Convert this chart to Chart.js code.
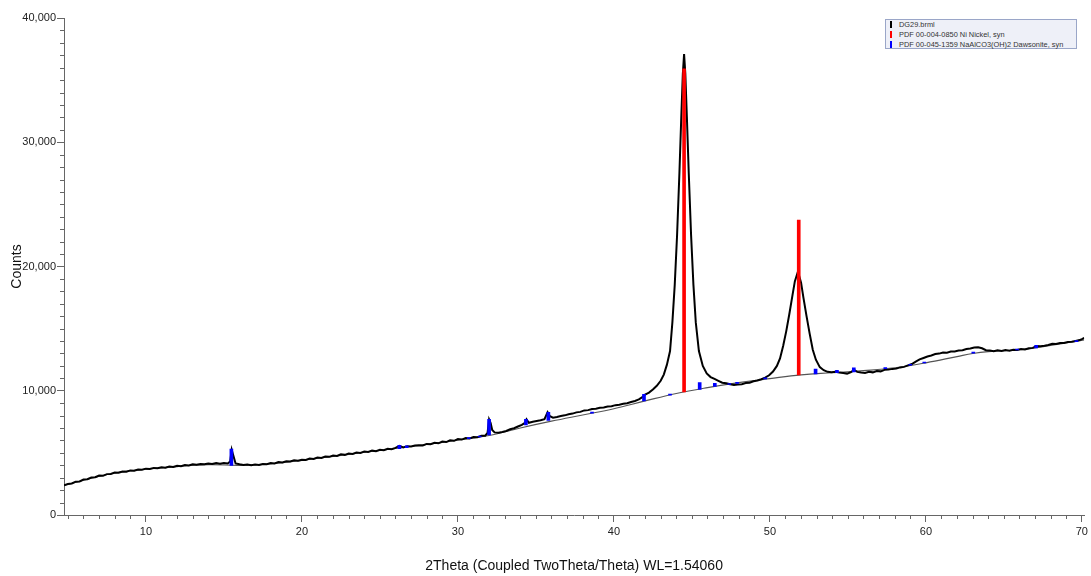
<!DOCTYPE html>
<html>
<head>
<meta charset="utf-8">
<title>DG29 XRD</title>
<script src="https://cdn.jsdelivr.net/npm/chart.js@4.4.1/dist/chart.umd.min.js"></script>
<style>
  body { margin: 0; background: #fff; font-family: "Liberation Sans", Arial, sans-serif; }
  #wrap { position: relative; width: 1091px; height: 576px; }
  #legend {
    position: absolute; left: 885px; top: 19px; width: 192px; height: 30px;
    background: #eef0f8; border: 1px solid #9aa6c8;
    font-size: 7.4px; line-height: 10px; color: #333; padding: 0 0 0 4px; box-sizing: border-box;
  }
  #legend div { white-space: nowrap; }
  #legend span { display: inline-block; width: 2px; height: 7px; margin-right: 7px; vertical-align: -1px; }
</style>
</head>
<body>
<div id="wrap">
  <canvas id="xrd"></canvas>
  <div id="legend"></div>
</div>
<script>
"use strict";

// ---------- Data ----------
const twoTheta = [
  4.75, 5.0, 5.25, 5.5, 5.75, 6.0, 6.25, 6.5, 6.75, 7.0,
  7.25, 7.5, 7.75, 8.0, 8.25, 8.5, 8.75, 9.0, 9.25, 9.5,
  9.75, 10.0, 10.25, 10.5, 10.75, 11.0, 11.25, 11.5, 11.75, 12.0,
  12.25, 12.5, 12.75, 13.0, 13.25, 13.5, 13.75, 14.0, 14.25, 14.5,
  14.75, 15.0, 15.25, 15.4, 15.5, 15.6, 15.75, 16.0, 16.25, 16.5,
  16.75, 17.0, 17.25, 17.5, 17.75, 18.0, 18.25, 18.5, 18.75, 19.0,
  19.25, 19.5, 19.75, 20.0, 20.25, 20.5, 20.75, 21.0, 21.25, 21.5,
  21.75, 22.0, 22.25, 22.5, 22.75, 23.0, 23.25, 23.5, 23.75, 24.0,
  24.25, 24.5, 24.75, 25.0, 25.25, 25.5, 25.75, 26.0, 26.25, 26.5,
  26.75, 27.0, 27.25, 27.5, 27.75, 28.0, 28.25, 28.5, 28.75, 29.0,
  29.25, 29.5, 29.75, 30.0, 30.25, 30.5, 30.75, 31.0, 31.25, 31.5,
  31.75, 31.9, 32.0, 32.1, 32.2, 32.35, 32.6, 32.85, 33.1, 33.35,
  33.6, 33.85, 34.1, 34.3, 34.4, 34.55, 34.8, 35.05, 35.3, 35.55,
  35.75, 35.9, 36.1, 36.35, 36.6, 36.85, 37.1, 37.35, 37.6, 37.85,
  38.1, 38.35, 38.6, 38.85, 39.1, 39.35, 39.6, 39.85, 40.1, 40.35,
  40.6, 40.85, 41.1, 41.35, 41.6, 41.85, 42.0, 42.25, 42.5, 42.75,
  43.0, 43.2, 43.4, 43.6, 43.75, 43.9, 44.05, 44.2, 44.32, 44.42,
  44.5, 44.58, 44.68, 44.8, 44.95, 45.1, 45.25, 45.45, 45.7, 45.95,
  46.2, 46.45, 46.7, 46.95, 47.2, 47.45, 47.7, 47.95, 48.2, 48.45,
  48.7, 48.95, 49.2, 49.45, 49.7, 49.95, 50.2, 50.45, 50.65, 50.85,
  51.05, 51.25, 51.45, 51.6, 51.8, 52.0, 52.15, 52.35, 52.55, 52.75,
  52.95, 53.2, 53.45, 53.7, 53.95, 54.2, 54.45, 54.7, 54.95, 55.2,
  55.4, 55.6, 55.85, 56.1, 56.35, 56.6, 56.85, 57.1, 57.35, 57.6,
  57.85, 58.1, 58.35, 58.6, 58.85, 59.1, 59.35, 59.6, 59.85, 60.1,
  60.35, 60.6, 60.85, 61.1, 61.35, 61.6, 61.85, 62.1, 62.35, 62.6,
  62.85, 63.1, 63.35, 63.6, 63.85, 64.1, 64.35, 64.6, 64.85, 65.1,
  65.35, 65.6, 65.85, 66.1, 66.35, 66.6, 66.85, 67.1, 67.35, 67.6,
  67.85, 68.1, 68.35, 68.6, 68.85, 69.1, 69.35, 69.6, 69.85, 70.0,
  70.15
];
const counts = [
  2400, 2500, 2540, 2680, 2700, 2850, 2880, 3010, 3040, 3170,
  3150, 3290, 3300, 3420, 3400, 3500, 3490, 3590, 3560, 3660,
  3640, 3730, 3700, 3790, 3760, 3850, 3810, 3900, 3870, 3960,
  3930, 4030, 3990, 4080, 4040, 4110, 4080, 4150, 4110, 4180,
  4130, 4190, 4140, 4300, 5250, 4800, 4150, 4080, 4020, 4060,
  4000, 4060, 4030, 4110, 4090, 4180, 4150, 4260, 4230, 4330,
  4300, 4400, 4360, 4450, 4430, 4550, 4510, 4630, 4590, 4710,
  4680, 4790, 4750, 4880, 4840, 4950, 4910, 5030, 5000, 5110,
  5070, 5180, 5140, 5250, 5210, 5330, 5300, 5400, 5560, 5440,
  5540, 5510, 5590, 5620, 5600, 5720, 5690, 5810, 5770, 5910,
  5870, 6010, 5970, 6110, 6070, 6200, 6160, 6280, 6250, 6380,
  6380, 6600, 7700, 7400, 6850, 6650, 6620, 6680, 6760, 6900,
  6980, 7120, 7250, 7420, 7700, 7420, 7500, 7570, 7620, 7720,
  8270, 7950, 7830, 7880, 7960, 8020, 8110, 8160, 8260, 8300,
  8420, 8440, 8530, 8550, 8630, 8650, 8730, 8750, 8840, 8870,
  8950, 9000, 9100, 9180, 9300, 9500, 9700, 9850, 10100, 10400,
  10800, 11300, 12100, 13200, 15500, 18500, 22500, 27500, 32000, 35500,
  37100, 35500, 32000, 27500, 22500, 18500, 15500, 13200, 12000, 11400,
  11100, 10950, 10800, 10650, 10600, 10520, 10470, 10500, 10530, 10620,
  10650, 10760, 10820, 10930, 11050, 11250, 11550, 12000, 12600, 13600,
  14800, 16200, 17700, 18800, 19600, 18700, 17500, 16000, 14600, 13300,
  12500, 11900, 11650, 11520, 11480, 11530, 11460, 11420, 11380, 11500,
  11680, 11520, 11470, 11430, 11520, 11480, 11580, 11560, 11680, 11700,
  11760, 11780, 11880, 11920, 12040, 12150, 12350, 12520, 12640, 12760,
  12840, 12950, 12990, 13080, 13060, 13150, 13160, 13240, 13260, 13360,
  13400, 13480, 13500, 13420, 13260, 13230, 13180, 13260, 13210, 13270,
  13220, 13300, 13280, 13350, 13320, 13420, 13450, 13600, 13580, 13620,
  13680, 13780, 13760, 13850, 13840, 13920, 13940, 14010, 14080, 14160,
  14250
];

// fitted background
const bgTheta = [4.75, 6, 8, 10, 12, 14, 16, 18, 20, 22, 24, 26, 28, 30, 32, 34, 36, 38, 40, 42, 44, 46, 48, 50,
  52, 54, 56, 58, 60, 62, 63, 64, 66, 68, 70.15];
const bgCounts = [2380, 2800, 3380, 3680, 3900, 4050, 4000, 4120, 4400, 4720, 5050, 5350, 5680, 6030, 6400, 7000, 7550,
  8050, 8550, 9180, 9780, 10250, 10650, 10980, 11280, 11450, 11620, 11850, 12250, 12750, 13000, 13150, 13300, 13650, 14100];

// PDF 00-004-0850 Ni Nickel, syn
const niTheta = [44.5, 51.85];
const niBase = [9900, 11270];
const niTop = [35900, 23740];

// PDF 00-045-1359 NaAlCO3(OH)2 Dawsonite, syn
const dawTheta = [15.48, 26.25, 26.72, 30.7, 31.4, 32.0, 34.36, 35.8, 38.6, 41.93, 43.6, 45.5, 46.47, 47.4, 47.9,
  49.7, 52.93, 54.3, 55.38, 57.4, 59.0, 59.9, 63.04, 65.85, 67.07, 69.65];
const dawBase = [4000, 5330, 5420, 6150, 6280, 6440, 7250, 7620, 8200, 9180, 9650, 10100, 10350, 10500, 10600,
  10950, 11350, 11450, 11520, 11780, 12050, 12230, 13020, 13280, 13450, 13950];
const dawTop = [5300, 5600, 5560, 6230, 6360, 7700, 7700, 8270, 8280, 9720, 9730, 10650, 10600, 10580, 10680,
  11030, 11750, 11650, 11850, 11860, 12130, 12310, 13120, 13360, 13650, 14030];

// axis labels
const xTickValues = [10, 20, 30, 40, 50, 60, 70];
const yTickValues = [0, 10000, 20000, 30000, 40000];

const legendItems = [
  { label: "DG29.brml", color: "#000000" },
  { label: "PDF 00-004-0850 Ni Nickel, syn", color: "#ff0000" },
  { label: "PDF 00-045-1359 NaAlCO3(OH)2 Dawsonite, syn", color: "#0000ff" }
];

// ---------- Helpers ----------
function toPoints(xs, ys) {
  return xs.map((x, i) => ({ x, y: ys[i] }));
}

function toSticks(xs, lows, highs) {
  return xs.map((x, i) => ({ x, y: [lows[i], highs[i]] }));
}

function renderLegend() {
  const box = document.getElementById("legend");
  for (const item of legendItems) {
    const row = document.createElement("div");
    const mark = document.createElement("span");
    mark.style.background = item.color;
    row.appendChild(mark);
    row.appendChild(document.createTextNode(item.label));
    box.appendChild(row);
  }
}

// short unlabeled ticks between the labelled ones
const minorTicks = {
  id: "minorTicks",
  afterDraw(chart) {
    const { ctx, scales: { x, y } } = chart;
    ctx.save();
    ctx.strokeStyle = "#666";
    ctx.lineWidth = 1;
    ctx.beginPath();
    for (let v = Math.ceil(x.min); v <= x.max; v++) {
      if (v % 10 === 0) continue;
      const px = Math.round(x.getPixelForValue(v)) + 0.5;
      ctx.moveTo(px, y.bottom);
      ctx.lineTo(px, y.bottom + 4);
    }
    for (let v = 1000; v < y.max; v += 1000) {
      if (v % 10000 === 0) continue;
      const py = Math.round(y.getPixelForValue(v)) + 0.5;
      ctx.moveTo(x.left, py);
      ctx.lineTo(x.left - 4, py);
    }
    ctx.stroke();
    ctx.restore();
  }
};

// ---------- Chart ----------
const tickFont = { family: "'Liberation Sans', Arial, sans-serif", size: 11 };
const titleFont = { family: "'Liberation Sans', Arial, sans-serif", size: 14 };

new Chart(document.getElementById("xrd"), {
  type: "line",
  data: {
    datasets: [
      {
        type: "bar",
        label: "PDF 00-004-0850 Ni Nickel, syn",
        data: toSticks(niTheta, niBase, niTop),
        backgroundColor: "#ff0000",
        barThickness: 3,
        grouped: false,
        order: 0
      },
      {
        type: "bar",
        label: "PDF 00-045-1359 NaAlCO3(OH)2 Dawsonite, syn",
        data: toSticks(dawTheta, dawBase, dawTop),
        backgroundColor: "#0000ff",
        barThickness: 3,
        grouped: false,
        order: 1
      },
      {
        label: "DG29.brml",
        data: toPoints(twoTheta, counts),
        borderColor: "#000000",
        borderWidth: 2,
        pointRadius: 0,
        tension: 0,
        order: 2
      },
      {
        label: "Background",
        data: toPoints(bgTheta, bgCounts),
        borderColor: "#555555",
        borderWidth: 1.2,
        pointRadius: 0,
        tension: 0.4,
        order: 3
      }
    ]
  },
  options: {
    responsive: true,
    maintainAspectRatio: false,
    animation: false,
    layout: { padding: { top: 18, right: 5, left: 0, bottom: 0 } },
    plugins: {
      legend: { display: false },
      tooltip: { enabled: false }
    },
    scales: {
      x: {
        type: "linear",
        min: 4.75,
        max: 70.15,
        offset: false,
        afterFit: s => { s.height = 61; },
        afterBuildTicks: s => { s.ticks = xTickValues.map(value => ({ value })); },
        ticks: { color: "#222", font: tickFont, padding: 3, maxRotation: 0, autoSkip: false },
        grid: { drawOnChartArea: false, offset: false, tickLength: 7, color: "#666" },
        border: { display: true, color: "#666" },
        title: {
          display: true,
          text: "2Theta (Coupled TwoTheta/Theta) WL=1.54060",
          color: "#111",
          font: titleFont,
          padding: { top: 0, bottom: 1 }
        }
      },
      y: {
        type: "linear",
        min: 0,
        max: 40000,
        afterFit: s => { s.width = 64; },
        afterBuildTicks: s => { s.ticks = yTickValues.map(value => ({ value })); },
        ticks: { color: "#222", font: tickFont, padding: 1, autoSkip: false },
        grid: { drawOnChartArea: false, tickLength: 7, color: "#666" },
        border: { display: true, color: "#666" },
        title: {
          display: true,
          text: "Counts",
          color: "#111",
          font: titleFont,
          padding: { top: 9, bottom: 0 }
        }
      }
    }
  },
  plugins: [minorTicks]
});

renderLegend();
</script>
</body>
</html>
